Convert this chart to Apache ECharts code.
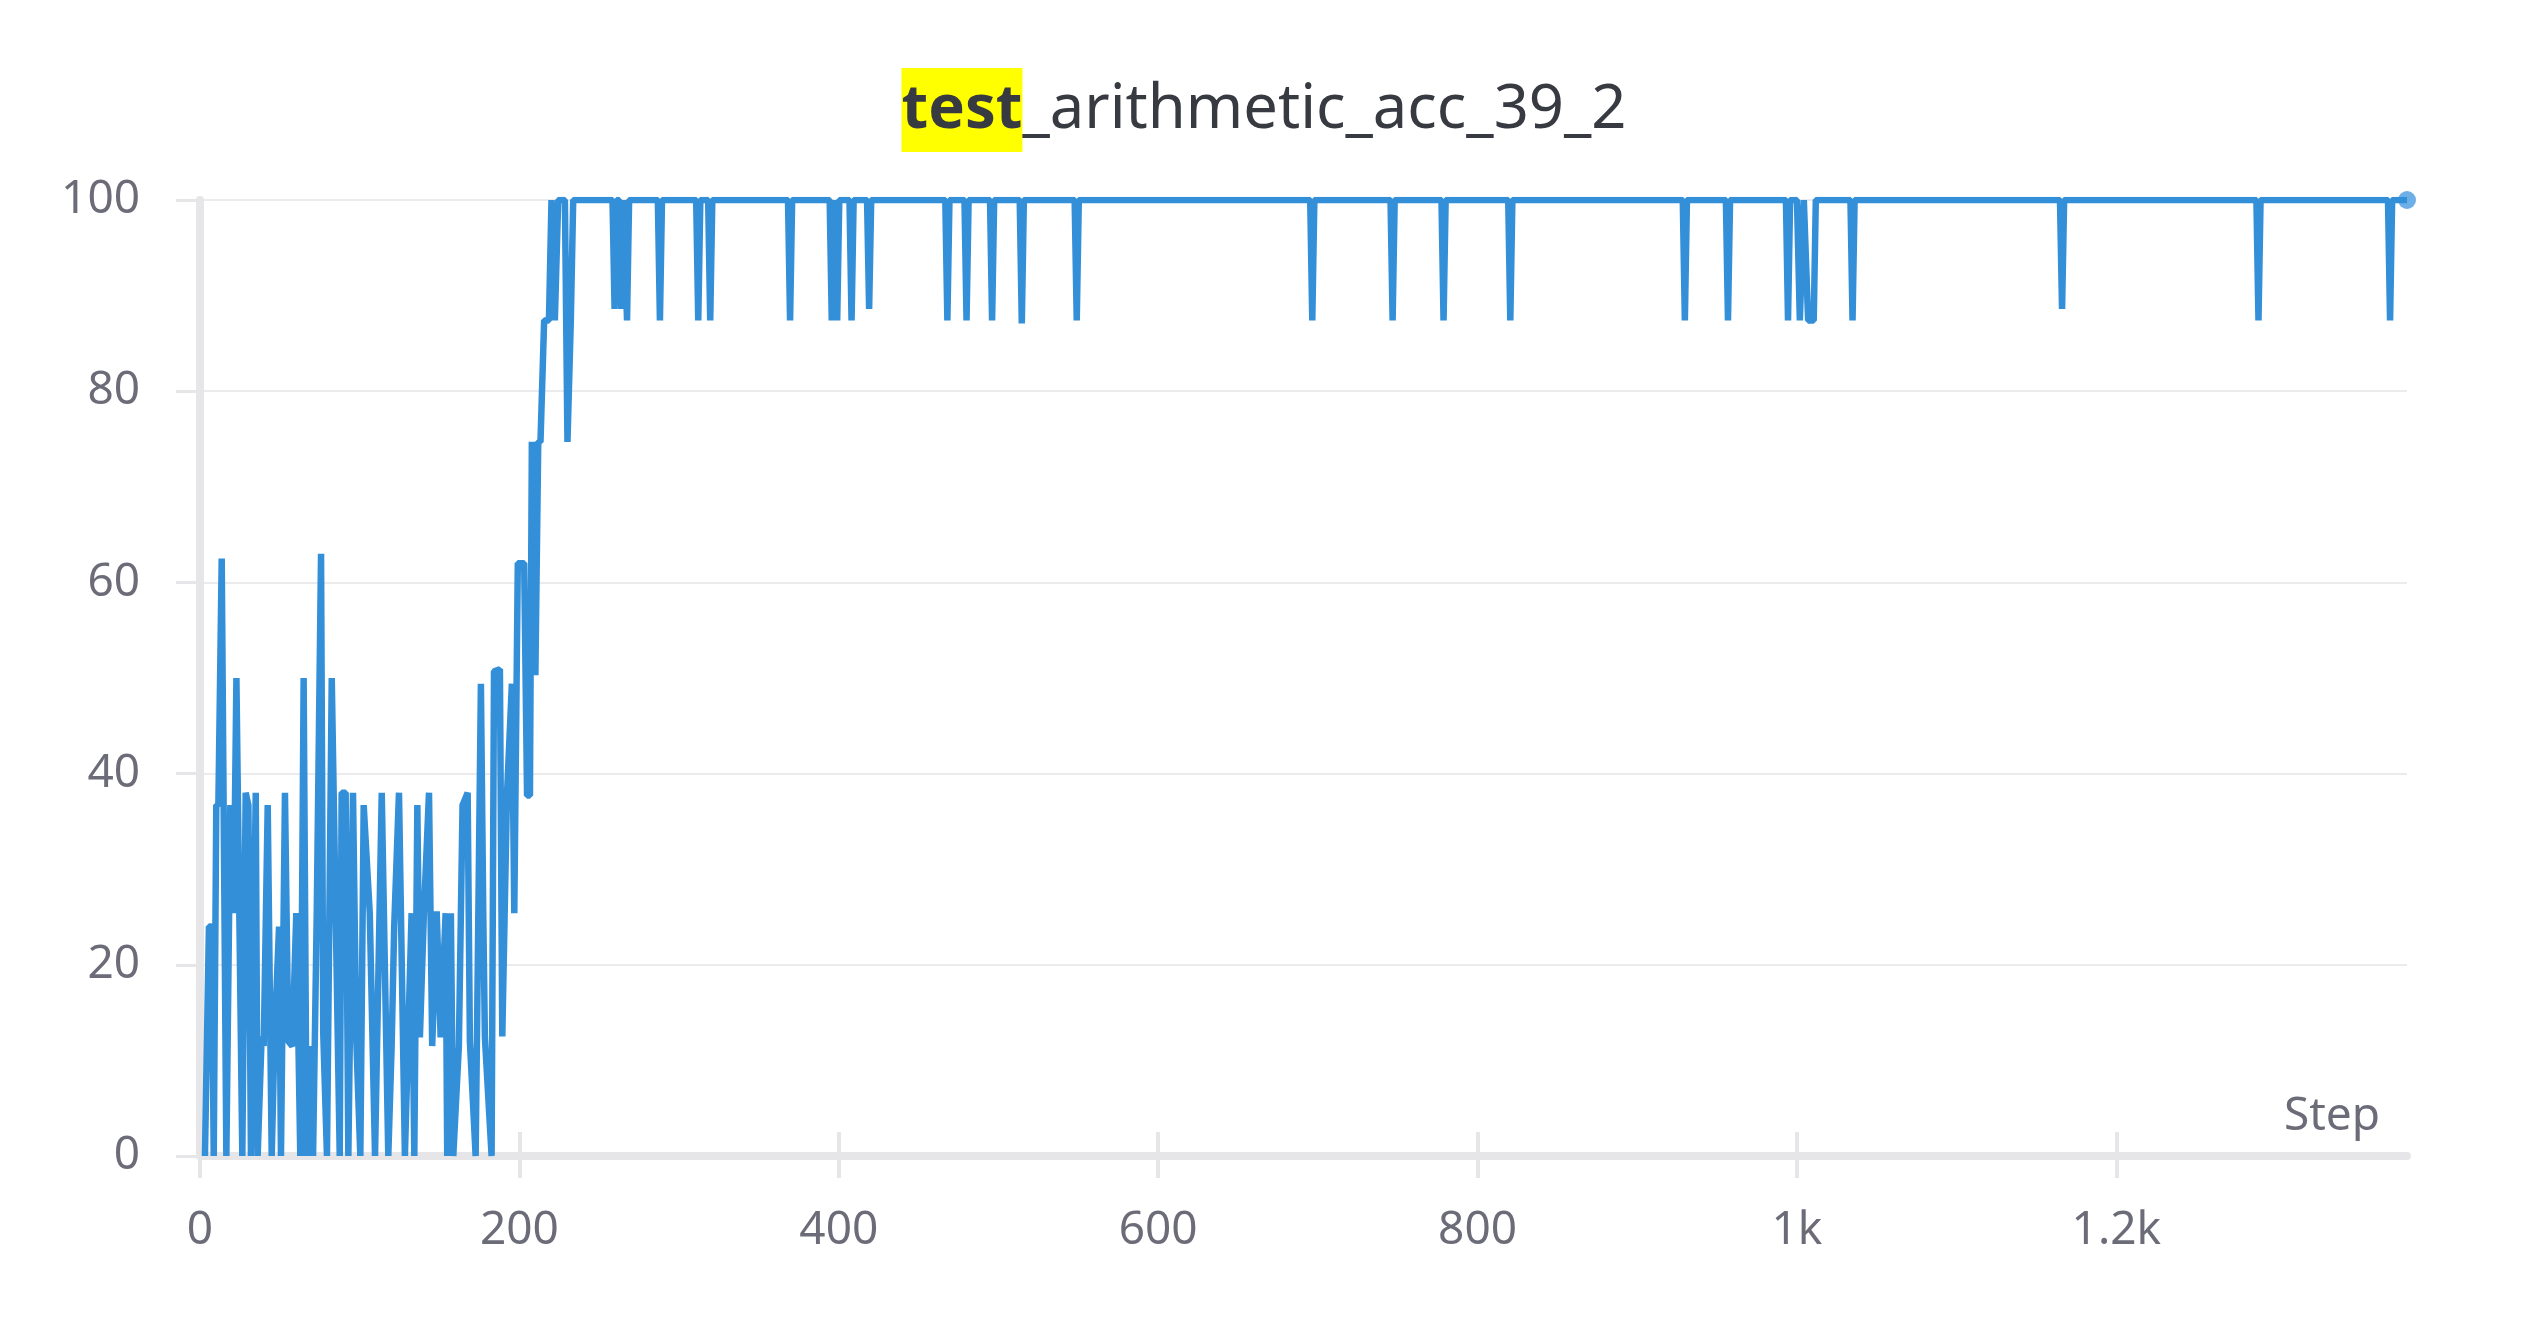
<!DOCTYPE html>
<html>
<head>
<meta charset="utf-8">
<title>test_arithmetic_acc_39_2</title>
<script src="https://cdn.jsdelivr.net/npm/echarts@6/dist/echarts.min.js"></script>
<style>
  html, body { margin: 0; padding: 0; background: #fff; }
  #chart { width: 2528px; height: 1328px; }
</style>
</head>
<body>
<div id="chart"></div>
<script>
// steps 0-234: noisy phase
var earlySteps = [3.1, 5.6, 7.3, 8.6, 10.2, 11.5, 13.6, 16.5, 19.0, 21.1, 22.8, 26.5, 28.6, 30.3, 31.9, 34.9, 36.1, 38.6, 39.9, 42.4,
  44.9, 46.6, 49.5, 50.7, 53.2, 55.3, 57.8, 60.3, 62.8, 64.9, 66.8, 69.1, 70.8, 73.1, 75.8, 77.2, 79.5, 82.5, 87.5, 88.7,
  91.2, 92.9, 95.8, 97.9, 100.4, 102.5, 106.3, 109.6, 113.8, 117.9, 120, 121.6, 124.6, 128.3, 130.4, 132.5, 134.2, 136.1, 137.7, 140.2,
  143.4, 145.4, 148.2, 150.7, 153.8, 154.8, 157.1, 158.6, 162.1, 164.4, 167.6, 169, 172.6, 175.9, 177.4, 178.4, 182.6, 184.1, 187.8, 189.3,
  192.2, 195.3, 196.8, 199, 203, 204.8, 206.6, 207.8, 210, 211.8, 213.2, 215.5, 218.5, 220.1, 222.2, 224.3, 228.5, 230.1, 232.2, 233.7];
var earlyAcc = [0, 24, 24, 0, 36.7, 36.7, 62.5, 0, 36.7, 25.4, 50, 0, 38, 36.7, 0, 38, 0, 12.5, 11.5, 36.7,
  0, 12, 24, 0, 38, 12, 11.5, 25.4, 0, 50, 0, 11.5, 0, 25.4, 63, 12.7, 0, 50, 0, 38,
  38, 0, 38, 12, 0, 36.7, 25.4, 0, 38, 0, 11.5, 24, 38, 0, 12.7, 25.4, 0, 36.7, 12.4, 25.4,
  38, 11.5, 25.6, 12.4, 25.4, 0, 25.4, 0, 11.5, 36.7, 38, 12, 0, 49.4, 25, 12.4, 0, 50.7, 50.9, 12.5,
  37.7, 49.4, 25.4, 62, 62, 37.7, 37.7, 74.7, 50.3, 74.7, 74.7, 87.4, 87.4, 100, 87.4, 100, 100, 74.7, 87.4, 100];

// steps 234-1382: solved phase, 100 with short dips
var tailSteps = [258.3, 259.6, 260.9, 262.5, 263.8, 265.1, 266.1, 267.4, 268.7, 286.7, 288, 289.3, 310.7, 312, 313.3,
  318.2, 319.5, 320.8, 368.2, 369.5, 370.8, 394.3, 395.6, 396.9, 397.7, 399, 400.3, 406.7, 408, 409.3,
  417.7, 419, 420.3, 466.7, 468, 469.3, 478.7, 480, 481.3, 494.7, 496, 497.3, 513.3, 514.6, 515.9,
  547.7, 549, 550.3, 695.2, 696.5, 697.8, 745.5, 746.8, 748.1, 777.4, 778.7, 780, 819.2, 820.5, 821.8,
  928.5, 929.8, 931.1, 955.5, 956.8, 958.1, 993.1, 994.4, 995.7, 1000, 1001.8, 1004.3, 1007, 1010.5, 1011.8,
  1033.5, 1034.8, 1036.1, 1164.7, 1166, 1167.3, 1287.7, 1289, 1290.3, 1370.1, 1371.4, 1372.7, 1382];
var tailAcc = [100, 88.6, 100, 100, 88.6, 100, 100, 87.4, 100, 100, 87.4, 100, 100, 87.4, 100,
  100, 87.4, 100, 100, 87.4, 100, 100, 87.4, 100, 100, 87.4, 100, 100, 87.4, 100,
  100, 88.6, 100, 100, 87.4, 100, 100, 87.4, 100, 100, 87.4, 100, 100, 87.1, 100,
  100, 87.4, 100, 100, 87.4, 100, 100, 87.4, 100, 100, 87.4, 100, 100, 87.4, 100,
  100, 87.4, 100, 100, 87.4, 100, 100, 87.4, 100, 100, 87.4, 100, 87.4, 87.4, 100,
  100, 87.4, 100, 100, 88.6, 100, 100, 87.4, 100, 100, 87.4, 100, 100];

var xTicks = [0, 200, 400, 600, 800, 1000, 1200];
var yTicks = [0, 20, 40, 60, 80, 100];

var steps = earlySteps.concat(tailSteps);
var acc = earlyAcc.concat(tailAcc);
var lineData = steps.map(function (s, i) { return [s, acc[i]]; });
var lastPoint = [[steps[steps.length - 1], acc[acc.length - 1]]];

var FONT = "Noto Sans";
var AXIS_GREY = "#e6e6e9";
var LABEL = "#6b6c78";

var chart = echarts.init(document.getElementById("chart"));
chart.setOption({
  animation: false,
  backgroundColor: "#fff",
  title: {
    text: "{hl|test}_arithmetic_acc_39_2",
    left: "center",
    top: 68,
    padding: 0,
    textStyle: {
      fontFamily: FONT,
      fontSize: 61.5,
      fontWeight: "normal",
      color: "#383a42",
      lineHeight: 84,
      rich: {
        hl: {
          fontFamily: FONT,
          fontSize: 61.5,
          fontWeight: "bold",
          color: "#383a42",
          backgroundColor: "#ffff00",
          lineHeight: 84,
          height: 84
        }
      }
    }
  },
  grid: {
    left: 200,
    right: 121,
    top: 200,
    bottom: 172,
    containLabel: false,
    outerBoundsMode: "none"
  },
  xAxis: [
    {
      type: "value",
      min: 0,
      max: 1382,
      interval: 200,
      name: "Step",
      nameLocation: "end",
      nameGap: -27,
      nameTextStyle: {
        fontFamily: FONT,
        fontSize: 46,
        color: LABEL,
        align: "right",
        verticalAlign: "bottom",
        padding: [0, 0, 16, 0]
      },
      axisLine: { show: true, lineStyle: { color: AXIS_GREY, width: 8 } },
      axisTick: { show: true, length: 22, customValues: xTicks, lineStyle: { color: AXIS_GREY, width: 4 } },
      axisLabel: {
        fontFamily: FONT,
        fontSize: 46,
        color: LABEL,
        margin: 52,
        customValues: xTicks,
        formatter: function (v) {
          if (v >= 1000) return (v / 1000) + "k";
          return String(v);
        }
      },
      splitLine: { show: false }
    },
    {
      // inner half of the x ticks
      type: "value",
      min: 0,
      max: 1382,
      interval: 200,
      position: "bottom",
      axisLine: { show: false },
      axisTick: { show: true, inside: true, length: 24, customValues: xTicks, lineStyle: { color: AXIS_GREY, width: 4 } },
      axisLabel: { show: false },
      splitLine: { show: false }
    }
  ],
  yAxis: {
    type: "value",
    min: 0,
    max: 100,
    interval: 20,
    axisLine: { show: true, lineStyle: { color: AXIS_GREY, width: 8 } },
    axisTick: { show: true, length: 24, customValues: yTicks, lineStyle: { color: AXIS_GREY, width: 3 } },
    axisLabel: { fontFamily: FONT, fontSize: 46, color: LABEL, margin: 60 },
    splitLine: { show: true, lineStyle: { color: "#ebebed", width: 2 } }
  },
  series: [
    {
      type: "line",
      data: lineData,
      showSymbol: false,
      symbol: "none",
      silent: true,
      lineStyle: { color: "#348fd9", width: 6.5, join: "bevel", cap: "butt" }
    },
    {
      type: "scatter",
      data: lastPoint,
      symbol: "circle",
      symbolSize: 18,
      silent: true,
      itemStyle: { color: "#4a9be1" }
    }
  ]
});
</script>
</body>
</html>
